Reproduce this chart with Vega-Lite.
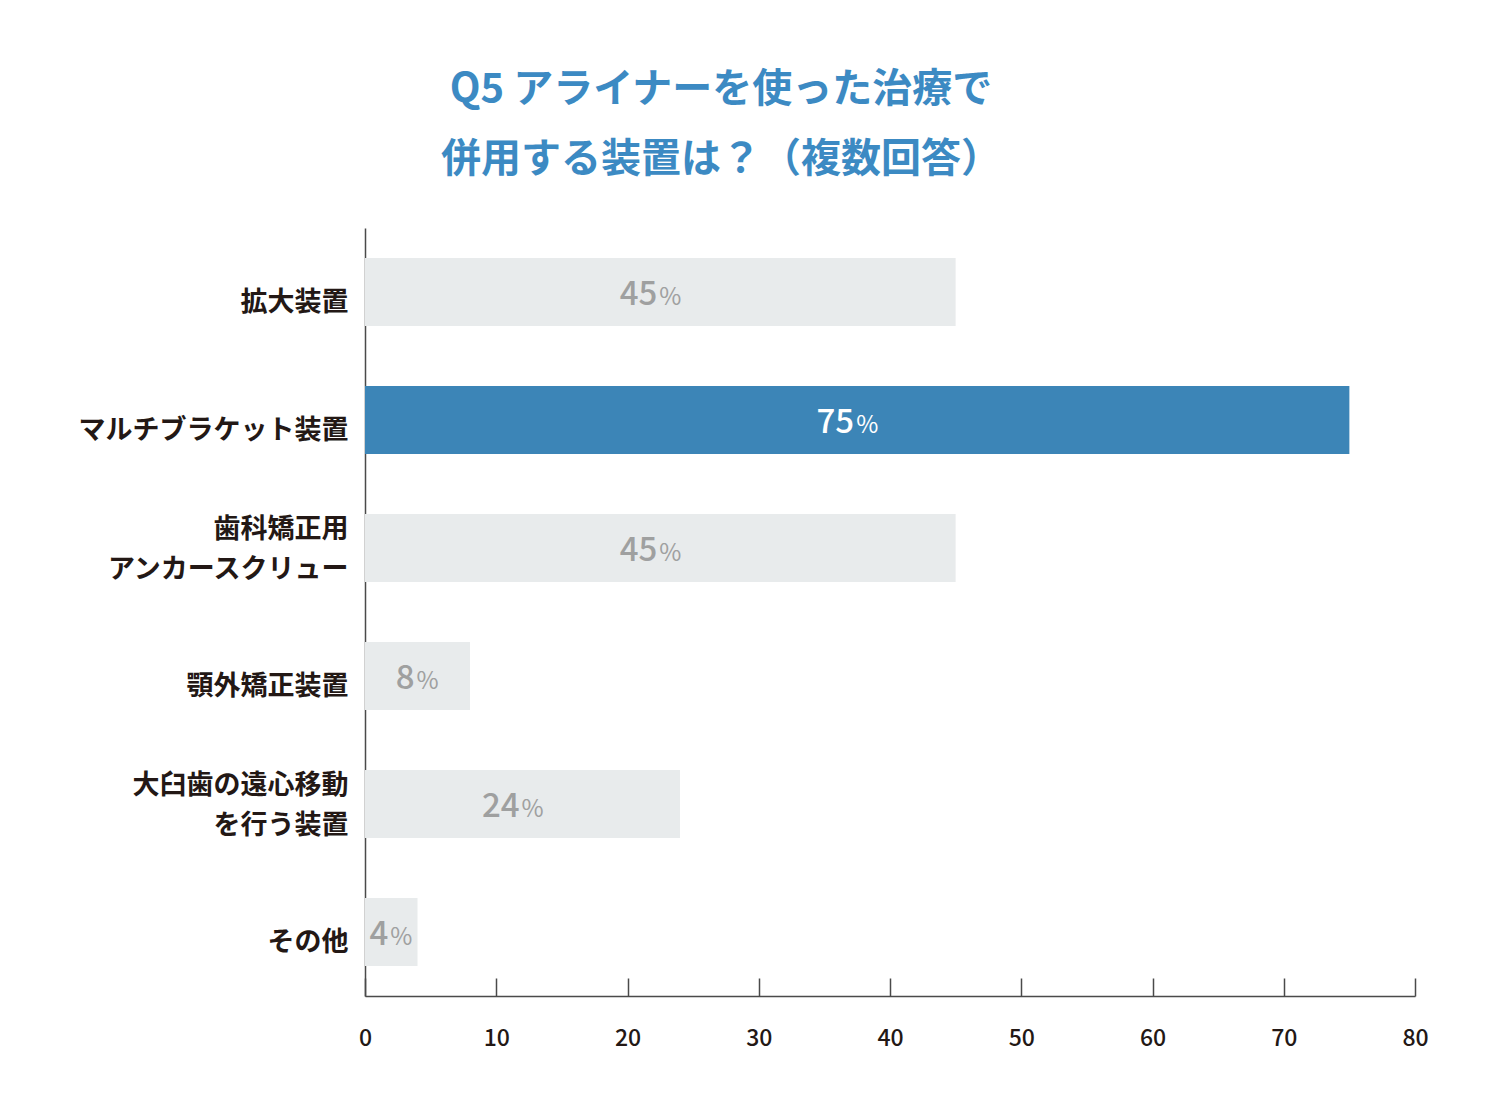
{
  "$schema": "https://vega.github.io/schema/vega-lite/v6.json",
  "width": 1050,
  "height": 768,
  "autosize": {"type": "none"},
  "padding": {"left": 365, "top": 228, "right": 85, "bottom": 101},
  "background": "white",
  "config": {"view": {"stroke": null}},
  "title": {
    "text": ["Q5 アライナーを使った治療で", "併用する装置は？（複数回答）"],
    "font": "Noto Sans CJK JP",
    "fontSize": 40,
    "fontWeight": "bold",
    "color": "#3c8ac3",
    "anchor": "middle",
    "frame": "group",
    "dx": -169,
    "offset": 48,
    "lineHeight": 70
  },
  "data": {
    "values": [
      {"item": "拡大装置", "pct": 45},
      {"item": "マルチブラケット装置", "pct": 75},
      {"item": "歯科矯正用\nアンカースクリュー", "pct": 45},
      {"item": "顎外矯正装置", "pct": 8},
      {"item": "大臼歯の遠心移動\nを行う装置", "pct": 24},
      {"item": "その他", "pct": 4}
    ]
  },
  "encoding": {
    "y": {
      "field": "item",
      "type": "nominal",
      "sort": null,
      "scale": {"paddingInner": 0.46875, "paddingOuter": 0.234375},
      "axis": {
        "title": null,
        "ticks": false,
        "domain": true,
        "domainColor": "#4a4a4a",
        "domainWidth": 1.5,
        "labelPadding": 17,
        "labelLimit": 0,
        "labelFont": "Noto Sans CJK JP",
        "labelFontSize": 27,
        "labelFontWeight": "bold",
        "labelColor": "#231815",
        "labelLineHeight": 40,
        "labelOffset": {"condition": {"test": "indexof(datum.value, '\\n') >= 0", "value": -18}, "value": 11},
        "labelExpr": "split(datum.value, '\\n')"
      }
    }
  },
  "layer": [
    {
      "mark": {"type": "bar"},
      "encoding": {
        "x": {
          "field": "pct",
          "type": "quantitative",
          "scale": {"domain": [0, 80]},
          "axis": {
            "title": null,
            "grid": false,
            "values": [0, 10, 20, 30, 40, 50, 60, 70, 80],
            "tickSize": -18,
            "tickColor": "#4a4a4a",
            "tickWidth": 1.5,
            "domainColor": "#4a4a4a",
            "domainWidth": 1.5,
            "labelPadding": 49,
            "labelFlush": false,
            "labelFont": "Noto Sans CJK JP",
            "labelFontSize": 23,
            "labelFontWeight": 500,
            "labelColor": "#231815"
          }
        },
        "color": {
          "condition": {"test": "datum.item === 'マルチブラケット装置'", "value": "#3c85b7"},
          "value": "#e8ebec"
        }
      }
    },
    {
      "transform": [{"calculate": "datum.pct / 2", "as": "mid"}],
      "mark": {"type": "text", "align": "right", "baseline": "alphabetic", "dy": 13, "dx": -3, "font": "Noto Sans CJK JP", "fontSize": 33, "fontWeight": 500},
      "encoding": {
        "x": {"field": "mid", "type": "quantitative"},
        "text": {"field": "pct", "type": "quantitative"},
        "color": {
          "condition": {"test": "datum.item === 'マルチブラケット装置'", "value": "#ffffff"},
          "value": "#9fa0a0"
        }
      }
    },
    {
      "transform": [{"calculate": "datum.pct / 2", "as": "mid"}],
      "mark": {"type": "text", "align": "left", "baseline": "alphabetic", "dy": 13, "dx": -1, "font": "Noto Sans CJK JP", "fontSize": 24, "fontWeight": 400},
      "encoding": {
        "x": {"field": "mid", "type": "quantitative"},
        "text": {"value": "%"},
        "color": {
          "condition": {"test": "datum.item === 'マルチブラケット装置'", "value": "#ffffff"},
          "value": "#9fa0a0"
        }
      }
    }
  ]
}
